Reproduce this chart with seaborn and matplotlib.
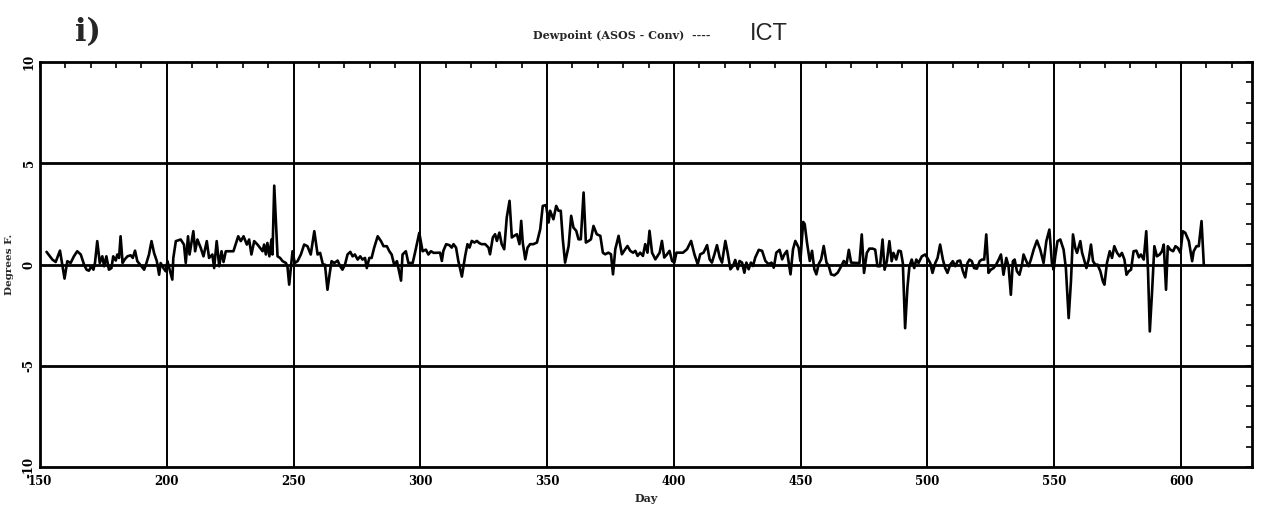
import numpy as np
import pandas as pd
import matplotlib
matplotlib.use("Agg")
import matplotlib.pyplot as plt
import seaborn as sns
from matplotlib.ticker import MultipleLocator

sns.set_style("white")
plt.rcParams['font.family'] = ['DejaVu Serif', 'DejaVu Sans']
plt.rcParams['axes.unicode_minus'] = False

# Day of record and dewpoint difference (ASOS - Conv), degrees F
days = [
    152.6, 154.9, 156.2, 157.9, 159.7, 160.8, 162.1, 163.4, 164.7, 166.1,
    167.4, 168.4, 169.3, 170.3, 171.1, 171.7, 172.6, 173.6, 174.6, 175.3,
    176.2, 177.2, 178.2, 178.9, 179.9, 180.5, 181.2, 181.8, 182.6, 183.4,
    184.5, 185.8, 186.6, 187.5, 188.4, 189.5, 191.1, 192.0, 193.0, 194.0,
    195.0, 196.1, 197.0, 197.6, 198.7, 199.6, 200.3, 200.9, 202.2, 202.6,
    203.6, 205.5, 206.8, 207.5, 208.4, 209.0, 210.5, 211.2, 212.1, 213.4,
    214.5, 215.8, 216.7, 218.0, 218.7, 219.7, 220.7, 221.6, 222.4, 223.3,
    226.3, 228.2, 229.2, 230.3, 231.6, 232.5, 233.4, 234.5, 235.8, 236.8,
    237.8, 238.4, 239.1, 239.7, 240.5, 241.3, 241.7, 242.4, 243.7, 244.7,
    245.7, 247.0, 247.6, 248.3, 249.6, 250.5, 251.6, 252.9, 254.2, 255.5,
    256.8, 258.2, 259.5, 260.5, 261.6, 262.4, 263.4, 264.2, 265.0, 266.1,
    267.4, 268.4, 269.3, 270.3, 271.3, 272.4, 273.3, 274.2, 275.3, 276.3,
    277.2, 278.2, 278.9, 279.9, 280.8, 281.8, 283.2, 284.5, 285.5, 286.8,
    287.8, 288.7, 289.7, 290.8, 292.4, 293.0, 294.3, 295.3, 297.0, 297.9,
    299.6, 300.9, 302.2, 303.2, 304.2, 305.3,
    307.8, 308.5, 309.1, 310.2, 311.5, 312.4, 313.1, 314.1, 315.0, 316.4,
    317.7, 318.6, 319.4, 320.3, 321.4, 322.3, 323.3, 324.2, 325.6, 326.9,
    327.5, 328.6, 329.5, 330.2, 331.2, 332.1, 333.1, 334.1, 335.2, 336.1,
    337.0, 338.1, 339.1, 339.8, 340.4, 341.4, 342.3, 343.3, 344.6, 346.0,
    347.3, 348.3, 349.6, 350.6, 351.2, 352.5, 353.6, 354.5, 355.4, 356.2,
    357.1, 358.5, 359.5, 360.4, 361.5, 362.4, 363.3, 364.4, 365.3, 366.4,
    367.3, 368.3, 369.6, 371.0, 372.0, 372.9, 374.2, 375.2, 376.0, 376.9,
    378.2, 379.5, 380.8, 381.7, 382.8, 383.9, 384.8, 385.7, 386.7, 387.8,
    388.7, 389.6, 390.4, 391.4, 392.7, 393.6, 394.4, 395.3, 396.2, 397.3,
    398.3, 399.3, 400.2, 401.0, 402.3, 403.6, 405.2, 406.8, 408.1, 409.4,
    410.4, 411.7, 413.1, 414.1, 415.0, 416.0, 417.0, 418.1, 419.0, 420.3,
    421.2, 422.3, 423.3, 424.2, 425.2, 425.9, 426.9, 427.8, 428.6, 429.5,
    430.4, 431.2, 432.1, 433.5, 434.8, 436.1, 437.4, 438.5, 439.4, 440.4,
    441.7, 442.7, 443.6, 444.6, 446.0, 447.0, 447.9, 449.2, 449.9, 451.0,
    451.6, 452.5, 453.6, 454.5, 455.4, 456.2, 457.1, 458.1, 459.1, 460.2,
    461.1, 462.0, 463.3, 464.6, 465.7, 467.0, 468.1, 469.0, 469.9,
    471.9, 473.2, 474.1, 475.0, 476.1, 477.1, 478.4, 479.4, 480.3, 481.3,
    482.3, 483.1, 484.0, 485.0, 485.9, 486.6, 487.7, 488.6, 489.5, 490.3,
    491.2, 492.1, 492.9, 493.8, 494.8, 495.6, 496.5, 497.8, 499.1, 500.0,
    501.1, 502.0, 503.1, 504.0, 505.0, 506.1, 507.0, 507.9, 509.0, 510.0,
    511.0, 511.9, 512.9, 514.0, 514.9, 515.8, 516.6, 517.5, 518.4, 519.5,
    520.6, 521.5, 522.4, 523.2, 524.1, 525.0, 526.1, 527.1, 528.1, 529.0,
    530.0, 531.1, 532.0, 532.9, 533.7, 534.4, 535.3, 536.3, 537.3, 537.9,
    539.0, 539.9, 540.8, 541.9, 543.2, 544.5, 545.8, 546.9, 548.1, 549.1,
    549.8, 550.4, 551.3, 552.4, 553.7, 554.6, 555.7, 556.6, 557.4, 558.3,
    559.0, 560.3, 561.0, 561.6, 562.7, 563.6, 564.5, 565.3, 566.2, 567.1,
    568.2, 569.2, 569.8, 570.8, 571.9, 572.8, 573.7, 574.8, 575.8, 576.7,
    577.7, 578.5, 579.4, 580.3, 581.3, 582.4, 583.4, 584.2, 585.3, 586.3,
    587.0, 587.7, 588.6, 589.5, 590.5, 591.6, 592.5, 593.2, 594.1, 594.8,
    595.8, 596.9, 597.8, 598.7, 599.8, 600.7, 601.7, 603.1, 604.4, 605.0,
    606.1, 607.0, 608.1, 609.0,
]
diffs = [
    0.63, 0.25, 0.13, 0.69, -0.69, 0.17, 0.08, 0.41, 0.66, 0.50,
    0.00, -0.25, -0.30, -0.08, -0.25, 0.08, 1.16, 0.08, 0.41, -0.08,
    0.41, -0.25, -0.17, 0.41, 0.20, 0.50, 0.33, 1.40, 0.08, 0.25,
    0.41, 0.46, 0.33, 0.69, 0.17, 0.00, -0.25, 0.08, 0.50, 1.16,
    0.58, 0.17, -0.50, 0.08, -0.17, -0.33, 0.17, -0.13, -0.74, 0.33,
    1.16, 1.24, 0.99, 0.08, 1.40, 0.50, 1.65, 0.66, 1.24, 0.83,
    0.41, 1.16, 0.33, 0.50, -0.17, 1.16, -0.08, 0.66, 0.13, 0.66,
    0.66, 1.40, 1.16, 1.40, 0.99, 1.24, 0.50, 1.16, 0.99, 0.83,
    0.66, 0.99, 0.50, 1.07, 0.41, 1.24, 0.50, 3.90, 0.41, 0.33,
    0.17, 0.08, -0.08, -0.99, 0.66, 0.08, 0.17, 0.50, 0.99, 0.91,
    0.50, 1.65, 0.50, 0.58, 0.00, 0.00, -1.24, -0.50, 0.17, 0.08,
    0.20, -0.08, -0.25, 0.00, 0.50, 0.63, 0.41, 0.50, 0.25, 0.41,
    0.25, 0.33, -0.17, 0.33, 0.33, 0.83, 1.40, 1.16, 0.91, 0.91,
    0.66, 0.50, 0.00, 0.17, -0.79, 0.50, 0.66, 0.08, 0.08, 0.58,
    1.57, 0.66, 0.74, 0.50, 0.66, 0.58,
    0.59, 0.18, 0.68, 1.01, 0.96, 0.84, 1.01, 0.84, 0.18, -0.59,
    0.43, 1.01, 0.84, 1.17, 1.09, 1.17, 1.06, 1.01, 1.01, 0.84,
    0.51, 1.34, 1.50, 1.17, 1.58, 1.01, 0.76, 2.33, 3.15, 1.34,
    1.42, 1.50, 1.01, 2.16, 1.09, 0.26, 0.84, 1.01, 1.01, 1.09,
    1.75, 2.90, 2.94, 2.08, 2.66, 2.24, 2.90, 2.66, 2.66, 1.25,
    0.10, 0.92, 2.41, 1.83, 1.67, 1.25, 1.25, 3.56, 1.09, 1.17,
    1.25, 1.91, 1.50, 1.42, 0.59, 0.51, 0.59, 0.51, -0.48, 0.76,
    1.42, 0.51, 0.76, 0.92, 0.68, 0.59, 0.68, 0.43, 0.59, 0.43,
    1.01, 0.59, 1.67, 0.59, 0.26, 0.43, 0.59, 1.17, 0.35, 0.51,
    0.68, 0.18, 0.10, 0.59, 0.59, 0.59, 0.76, 1.17, 0.51, 0.02,
    0.51, 0.59, 0.96, 0.26, 0.10, 0.51, 0.96, 0.35, 0.10, 1.17,
    0.59, -0.23, -0.07, 0.23, -0.23, 0.18, 0.10, -0.40, 0.10, -0.23,
    0.10, -0.07, 0.35, 0.73, 0.68, 0.18, 0.02, 0.10, -0.15, 0.59,
    0.73, 0.26, 0.51, 0.68, -0.48, 0.76, 1.17, 0.84, 0.18, 2.11,
    2.00, 1.09, 0.18, 0.68, -0.23, -0.48, 0.02, 0.26, 0.92, 0.10,
    -0.07, -0.48, -0.53, -0.40, -0.15, 0.18, 0.02, 0.73, 0.10,
    0.08, 0.08, 1.49, -0.41, 0.58, 0.79, 0.79, 0.74, -0.08, -0.08,
    1.24, -0.25, 0.17, 1.16, 0.17, 0.58, 0.25, 0.69, 0.66, 0.08,
    -3.14, -1.16, -0.08, 0.25, -0.17, 0.25, 0.08, 0.41, 0.50, 0.33,
    0.08, -0.41, 0.08, 0.33, 0.99, 0.25, -0.17, -0.41, 0.00, 0.17,
    -0.08, 0.17, 0.20, -0.33, -0.63, 0.08, 0.25, 0.17, -0.17, -0.20,
    0.17, 0.25, 0.25, 1.49, -0.41, -0.25, -0.17, 0.00, 0.25, 0.50,
    -0.50, 0.33, -0.08, -1.49, 0.17, 0.25, -0.33, -0.50, 0.00, 0.50,
    0.17, -0.08, 0.25, 0.74, 1.19, 0.74, 0.08, 1.16, 1.73, 0.08,
    -0.25, 0.41, 1.16, 1.24, 0.74, -0.17, -2.64, -0.83, 1.49, 0.83,
    0.58, 1.16, 0.58, 0.33, -0.17, 0.25, 0.99, 0.17, 0.00, 0.00,
    -0.33, -0.83, -0.99, 0.08, 0.66, 0.33, 0.91, 0.58, 0.41, 0.58,
    0.25, -0.50, -0.33, -0.25, 0.66, 0.69, 0.36, 0.50, 0.25, 1.65,
    -0.33, -3.30, -1.32, 0.91, 0.41, 0.50, 0.66, 0.99, -1.24, 0.91,
    0.74, 0.66, 0.91, 0.83, 0.58, 1.65, 1.57, 1.16, 0.17, 0.66,
    0.91, 0.91, 2.15, 0.00,
]

x_ticks = [150, 200, 250, 300, 350, 400, 450, 500, 550, 600]
y_ticks = [-10, -5, 0, 5, 10]
x_grid = [200, 250, 300, 350, 400, 450, 500, 550, 600]
y_grid = [-5, 0, 5]

df = pd.DataFrame({'Day': days, 'Diff': diffs})

fig = plt.figure(figsize=(12.64, 5.05), dpi=100)
ax = fig.add_axes([0.0316, 0.075, 0.9589, 0.802])

for xv in x_grid:
    ax.axvline(xv, color='black', lw=1.4, zorder=1)
for yv in y_grid:
    ax.axhline(yv, color='black', lw=2.0, zorder=1)

sns.lineplot(data=df, x='Day', y='Diff', ax=ax, color='black', lw=1.9, zorder=2)

ax.set_xlim(150, 628)
ax.set_ylim(-10, 10)
ax.set_xticks(x_ticks)
ax.set_yticks(y_ticks)
ax.xaxis.set_minor_locator(MultipleLocator(10))
ax.yaxis.set_minor_locator(MultipleLocator(1))
ax.tick_params(which='both', direction='in', top=True, right=True,
               length=4, width=1.2, colors='black')
ax.tick_params(axis='x', pad=6)
ax.tick_params(axis='y', pad=3)
for lab in ax.get_xticklabels():
    lab.set_fontweight('bold')
    lab.set_fontsize(8.5)
for lab in ax.get_yticklabels():
    lab.set_fontweight('bold')
    lab.set_fontsize(8.5)
    lab.set_rotation(90)
    lab.set_verticalalignment('center')

for sp in ax.spines.values():
    sp.set_linewidth(2)
    sp.set_color('black')

ax.set_xlabel('Day', fontsize=8, fontweight='bold', labelpad=3)
ax.set_ylabel('Degrees F.', fontsize=7.5, fontweight='bold', labelpad=6)

fig.text(0.059, 0.935, 'i)', fontsize=22, fontweight='bold',
         family='DejaVu Serif', va='center', ha='left')
fig.text(0.422, 0.93, 'Dewpoint (ASOS - Conv)  ----', fontsize=8,
         fontweight='bold', va='center', ha='left')
fig.text(0.593, 0.932, 'ICT', fontsize=17, family='Liberation Sans',
         va='center', ha='left')

fig.savefig('out.png', dpi=100)
